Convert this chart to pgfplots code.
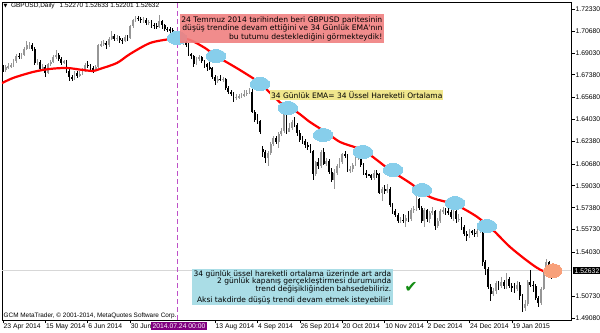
\documentclass[border=0pt]{standalone}
\usepackage{fontspec}
\setmainfont{Liberation Sans}
\newfontfamily\dejavu{DejaVu Sans}
\usepackage{pgfplots}
\usepackage{pgfplotstable}
\pgfplotsset{compat=1.18}
\definecolor{bullc}{RGB}{150,150,150}
\definecolor{bearc}{RGB}{0,0,0}
\definecolor{skyb}{RGB}{135,206,235}
\definecolor{orng}{RGB}{248,160,122}
\definecolor{pinkb}{RGB}{240,128,128}
\definecolor{yellb}{RGB}{240,230,140}
\definecolor{blueb}{RGB}{170,221,230}
\definecolor{purp}{RGB}{128,0,128}
\definecolor{vline}{RGB}{190,80,200}
\definecolor{curline}{RGB}{215,215,215}
\definecolor{chk}{RGB}{20,140,20}
\pgfplotstableread{
i o h l c
0 1.6790 1.6812 1.6758 1.6775
1 1.6775 1.6810 1.6762 1.6795
2 1.6795 1.6825 1.6780 1.6805
3 1.6805 1.6830 1.6790 1.6810
4 1.6810 1.6855 1.6798 1.6840
5 1.6840 1.6895 1.6828 1.6880
6 1.6880 1.6900 1.6855 1.6875
7 1.6875 1.6905 1.6860 1.6890
8 1.6890 1.6950 1.6880 1.6935
9 1.6935 1.6996 1.6925 1.6960
10 1.6960 1.6985 1.6935 1.6965
11 1.6965 1.6975 1.6915 1.6930
12 1.6930 1.6945 1.6815 1.6830
13 1.6830 1.6860 1.6810 1.6835
14 1.6835 1.6850 1.6770 1.6785
15 1.6785 1.6818 1.6765 1.6800
16 1.6800 1.6815 1.6725 1.6755
17 1.6755 1.6830 1.6745 1.6820
18 1.6820 1.6850 1.6805 1.6835
19 1.6835 1.6890 1.6825 1.6875
20 1.6875 1.6922 1.6860 1.6890
21 1.6890 1.6905 1.6845 1.6860
22 1.6860 1.6875 1.6815 1.6830
23 1.6830 1.6852 1.6822 1.6840
24 1.6840 1.6850 1.6755 1.6770
25 1.6770 1.6785 1.6695 1.6720
26 1.6720 1.6740 1.6688 1.6710
27 1.6710 1.6765 1.6700 1.6750
28 1.6750 1.6770 1.6715 1.6730
29 1.6730 1.6770 1.6720 1.6745
30 1.6745 1.6790 1.6735 1.6770
31 1.6770 1.6830 1.6760 1.6815
32 1.6815 1.6840 1.6790 1.6805
33 1.6805 1.6820 1.6770 1.6790
34 1.6790 1.6805 1.6755 1.6780
35 1.6780 1.6810 1.6770 1.6795
36 1.6795 1.6972 1.6790 1.6960
37 1.6960 1.6992 1.6945 1.6970
38 1.6970 1.7000 1.6955 1.6980
39 1.6980 1.6995 1.6930 1.6965
40 1.6965 1.7025 1.6950 1.7010
41 1.7010 1.7065 1.7000 1.7030
42 1.7030 1.7045 1.6995 1.7010
43 1.7010 1.7035 1.6990 1.7015
44 1.7015 1.7030 1.6975 1.7000
45 1.7000 1.7015 1.6970 1.6995
46 1.6995 1.7040 1.6985 1.7020
47 1.7020 1.7035 1.6995 1.7015
48 1.7015 1.7115 1.7005 1.7105
49 1.7105 1.7160 1.7090 1.7150
50 1.7150 1.7180 1.7135 1.7165
51 1.7165 1.7180 1.7140 1.7160
52 1.7160 1.7170 1.7130 1.7150
53 1.7150 1.7170 1.7125 1.7152
54 1.7152 1.7165 1.7110 1.7130
55 1.7130 1.7150 1.7110 1.7135
56 1.7135 1.7150 1.7090 1.7115
57 1.7115 1.7125 1.7085 1.7105
58 1.7105 1.7125 1.7080 1.7100
59 1.7100 1.7190 1.7090 1.7140
60 1.7140 1.7150 1.7085 1.7110
61 1.7110 1.7120 1.7065 1.7085
62 1.7085 1.7100 1.7060 1.7080
63 1.7080 1.7100 1.7055 1.7075
64 1.7075 1.7090 1.7035 1.7060
65 1.7060 1.7070 1.7025 1.7050
66 1.7050 1.7060 1.6980 1.6990
67 1.6990 1.7010 1.6960 1.6980
68 1.6980 1.7005 1.6960 1.6985
69 1.6985 1.7000 1.6950 1.6965
70 1.6965 1.6975 1.6880 1.6895
71 1.6895 1.6905 1.6860 1.6880
72 1.6880 1.6890 1.6795 1.6820
73 1.6820 1.6875 1.6810 1.6860
74 1.6860 1.6890 1.6840 1.6875
75 1.6875 1.6880 1.6825 1.6840
76 1.6840 1.6850 1.6790 1.6820
77 1.6820 1.6830 1.6770 1.6795
78 1.6795 1.6835 1.6775 1.6790
79 1.6790 1.6800 1.6710 1.6725
80 1.6725 1.6735 1.6660 1.6690
81 1.6690 1.6730 1.6680 1.6710
82 1.6710 1.6735 1.6690 1.6700
83 1.6700 1.6725 1.6685 1.6710
84 1.6710 1.6715 1.6625 1.6635
85 1.6635 1.6650 1.6590 1.6605
86 1.6605 1.6620 1.6575 1.6595
87 1.6595 1.6610 1.6535 1.6565
88 1.6565 1.6590 1.6550 1.6570
89 1.6570 1.6590 1.6555 1.6575
90 1.6575 1.6600 1.6560 1.6580
91 1.6580 1.6620 1.6570 1.6595
92 1.6595 1.6625 1.6580 1.6600
93 1.6600 1.6640 1.6590 1.6610
94 1.6610 1.6630 1.6450 1.6460
95 1.6460 1.6475 1.6380 1.6395
96 1.6395 1.6440 1.6370 1.6390
97 1.6390 1.6400 1.6290 1.6310
98 1.6180 1.6200 1.6120 1.6160
99 1.6160 1.6175 1.6075 1.6110
100 1.6110 1.6165 1.6050 1.6150
101 1.6150 1.6235 1.6135 1.6220
102 1.6220 1.6275 1.6205 1.6260
103 1.6260 1.6275 1.6215 1.6235
104 1.6235 1.6305 1.6190 1.6290
105 1.6290 1.6340 1.6275 1.6315
106 1.6315 1.6470 1.6300 1.6450
107 1.6450 1.6525 1.6290 1.6310
108 1.6310 1.6375 1.6305 1.6340
109 1.6340 1.6400 1.6325 1.6385
110 1.6385 1.6420 1.6345 1.6360
111 1.6360 1.6375 1.6280 1.6300
112 1.6300 1.6320 1.6235 1.6250
113 1.6250 1.6275 1.6220 1.6240
114 1.6240 1.6255 1.6190 1.6210
115 1.6210 1.6230 1.6175 1.6200
116 1.6200 1.6215 1.6150 1.6165
117 1.6165 1.6175 1.5950 1.5990
118 1.5990 1.6090 1.5980 1.6080
119 1.6080 1.6115 1.6030 1.6050
120 1.6050 1.6175 1.6040 1.6160
121 1.6160 1.6185 1.6060 1.6070
122 1.6070 1.6110 1.6055 1.6090
123 1.6090 1.6105 1.5995 1.6010
124 1.6010 1.6040 1.5930 1.5945
125 1.5945 1.6030 1.5875 1.6000
126 1.6000 1.6070 1.5985 1.6050
127 1.6050 1.6115 1.6040 1.6085
128 1.6085 1.6150 1.6070 1.6140
129 1.6140 1.6165 1.6110 1.6130
130 1.6130 1.6145 1.6005 1.6020
131 1.6020 1.6055 1.6000 1.6030
132 1.6030 1.6075 1.6010 1.6060
133 1.6060 1.6125 1.6050 1.6110
134 1.6110 1.6160 1.6095 1.6140
135 1.6140 1.6185 1.6045 1.6060
136 1.6060 1.6075 1.5985 1.6000
137 1.6000 1.6025 1.5960 1.5990
138 1.5990 1.5995 1.5975 1.5985
139 1.5985 1.5995 1.5945 1.5960
140 1.5960 1.6020 1.5950 1.6000
141 1.6000 1.6020 1.5965 1.5990
142 1.5990 1.6000 1.5840 1.5850
143 1.5850 1.5895 1.5790 1.5880
144 1.5880 1.5905 1.5840 1.5860
145 1.5860 1.5915 1.5845 1.5880
146 1.5880 1.5895 1.5745 1.5760
147 1.5760 1.5775 1.5690 1.5710
148 1.5710 1.5725 1.5665 1.5680
149 1.5680 1.5700 1.5620 1.5640
150 1.5640 1.5670 1.5620 1.5645
151 1.5645 1.5690 1.5625 1.5640
152 1.5640 1.5680 1.5590 1.5660
153 1.5660 1.5710 1.5630 1.5650
154 1.5650 1.5735 1.5640 1.5720
155 1.5720 1.5750 1.5700 1.5730
156 1.5730 1.5825 1.5715 1.5800
157 1.5800 1.5810 1.5720 1.5735
158 1.5735 1.5750 1.5625 1.5640
159 1.5640 1.5735 1.5590 1.5720
160 1.5720 1.5730 1.5630 1.5650
161 1.5650 1.5715 1.5625 1.5700
162 1.5700 1.5740 1.5680 1.5710
163 1.5710 1.5720 1.5570 1.5600
164 1.5600 1.5660 1.5585 1.5640
165 1.5640 1.5730 1.5620 1.5710
166 1.5710 1.5740 1.5690 1.5720
167 1.5720 1.5735 1.5685 1.5710
168 1.5710 1.5740 1.5680 1.5705
169 1.5705 1.5720 1.5650 1.5665
170 1.5665 1.5785 1.5640 1.5710
171 1.5710 1.5730 1.5625 1.5650
172 1.5650 1.5690 1.5630 1.5655
173 1.5655 1.5670 1.5570 1.5590
174 1.5590 1.5605 1.5525 1.5540
175 1.5540 1.5565 1.5485 1.5525
176 1.5525 1.5575 1.5510 1.5560
177 1.5560 1.5570 1.5535 1.5550
178 1.5550 1.5575 1.5520 1.5540
179 1.5540 1.5585 1.5520 1.5560
180 1.5560 1.5610 1.5545 1.5580
181 1.5580 1.5590 1.5300 1.5330
182 1.5330 1.5345 1.5235 1.5280
183 1.5280 1.5295 1.5125 1.5140
184 1.5140 1.5165 1.5035 1.5090
185 1.5090 1.5135 1.5075 1.5110
186 1.5110 1.5185 1.5090 1.5170
187 1.5170 1.5185 1.5120 1.5150
188 1.5150 1.5215 1.5135 1.5180
189 1.5180 1.5195 1.5130 1.5150
190 1.5150 1.5250 1.5125 1.5200
191 1.5200 1.5220 1.5135 1.5150
192 1.5150 1.5175 1.5105 1.5140
193 1.5140 1.5170 1.5100 1.5130
194 1.5130 1.5185 1.5110 1.5160
195 1.5160 1.5180 1.5040 1.5070
196 1.5070 1.5090 1.4952 1.4985
197 1.4985 1.5045 1.4960 1.5010
198 1.5010 1.5195 1.5000 1.5180
199 1.5180 1.5270 1.5145 1.5160
200 1.5160 1.5190 1.5100 1.5150
201 1.5150 1.5165 1.5040 1.5060
202 1.5060 1.5075 1.4990 1.5020
203 1.5020 1.5145 1.5005 1.5130
204 1.5130 1.5255 1.5115 1.5240
205 1.5240 1.5350 1.5225 1.5330
206 1.5330 1.5340 1.5220 1.5240
207 1.5240 1.5275 1.5200 1.5227
208 1.5227 1.5263 1.5220 1.5263
}\candles
\begin{document}
\begin{tikzpicture}
\useasboundingbox (0,0) rectangle (600bp,333bp);
\begin{axis}[
  at={(2bp,13bp)}, anchor=south west,
  scale only axis, width=569bp, height=318bp,
  xmin=-0.377, xmax=214.34, ymin=1.48930, ymax=1.72857,
  axis line style={black, line width=0.8bp},
  tick style={black, line width=0.6bp},
  tick align=outside, major tick length=3.5bp,
  xtick pos=left, ytick pos=right, yticklabel pos=right,
  xtick={0,16,32,48,80,96,112,128,144,160,176,192},
  xticklabels={23 Apr 2014,15 May 2014,6 Jun 2014,30 Jun 2014,13 Aug 2014,4 Sep 2014,26 Sep 2014,20 Oct 2014,10 Nov 2014,2 Dec 2014,24 Dec 2014,19 Jan 2015},
  xticklabel style={anchor=north west, font=\fontsize{6.8bp}{8bp}\selectfont, inner sep=0pt, xshift=0.5bp, yshift=0bp},
  ytick={1.72330,1.70680,1.69030,1.67380,1.65680,1.64030,1.62380,1.60680,1.59030,1.57380,1.55730,1.54030,1.50730,1.49080},
  yticklabels={1.72330,1.70680,1.69030,1.67380,1.65680,1.64030,1.62380,1.60680,1.59030,1.57380,1.55730,1.54030,1.50730,1.49080},
  yticklabel style={anchor=west, font=\fontsize{6.8bp}{8bp}\selectfont, inner sep=0pt, xshift=1bp},
]
% highlight ellipses
\addplot[skyb, only marks, mark=*, mark size=6.5bp, mark options={xscale=1.5, fill=skyb, draw=skyb, line width=0pt}] coordinates {
(65.7,1.7015) (80.4,1.6879) (97.0,1.6669) (107.5,1.6488) (120.8,1.6285) (135.8,1.6157) (147.2,1.6022) (158.1,1.5871) (170.6,1.5773) (182.6,1.5600)};
\addplot[orng, only marks, mark=*, mark size=7bp, mark options={xscale=1.3, fill=orng, draw=orng, line width=0pt}] coordinates {(207.5,1.5263)};
% current price line
\addplot[curline, line width=0.8bp] coordinates {(-0.4,1.52632) (214.4,1.52632)};
% wicks
\addplot[draw=none, mark=none, forget plot, error bars/.cd, y dir=both, y explicit, error mark=none,
  error bar style={draw=bullc, line width=0.7bp}]
  table[x=i, y expr={\thisrow{c}>\thisrow{o} ? (\thisrow{h}+\thisrow{l})/2 : 5}, y error expr={(\thisrow{h}-\thisrow{l})/2}] {\candles};
\addplot[draw=none, mark=none, forget plot, error bars/.cd, y dir=both, y explicit, error mark=none,
  error bar style={draw=bearc, line width=0.7bp}]
  table[x=i, y expr={\thisrow{c}>\thisrow{o} ? 5 : (\thisrow{h}+\thisrow{l})/2}, y error expr={(\thisrow{h}-\thisrow{l})/2}] {\candles};
% bodies
\addplot[draw=none, mark=none, forget plot, error bars/.cd, y dir=both, y explicit, error mark=none,
  error bar style={draw=bullc, line width=1.8bp}]
  table[x=i, y expr={\thisrow{c}>\thisrow{o} ? (\thisrow{o}+\thisrow{c})/2 : 5}, y error expr={abs(\thisrow{c}-\thisrow{o})/2}] {\candles};
\addplot[draw=none, mark=none, forget plot, error bars/.cd, y dir=both, y explicit, error mark=none,
  error bar style={draw=bearc, line width=1.8bp}]
  table[x=i, y expr={\thisrow{c}>\thisrow{o} ? 5 : (\thisrow{o}+\thisrow{c})/2}, y error expr={abs(\thisrow{c}-\thisrow{o})/2}] {\candles};
% EMA 34
\addplot[red, line width=2.2bp, smooth, tension=0.5] coordinates {
(-0.4,1.6675) (3.8,1.6714) (11.3,1.6759) (17.7,1.6782) (24.2,1.6789) (30.2,1.6774) (34,1.6767) (36.6,1.6782) (43,1.6827) (47.9,1.6894) (55.5,1.6977) (63,1.7007) (66,1.7015) (70.6,1.7000) (76.2,1.6940) (80.4,1.6880) (89.4,1.6774) (97,1.6676) (100.8,1.6601) (105.7,1.6511) (110.9,1.6458) (115.8,1.6383) (122.3,1.6300) (127.2,1.6232) (133.6,1.6187) (138.5,1.6135) (146,1.6022) (153.6,1.5924) (161.1,1.5819) (168.7,1.5774) (172.5,1.5744) (178.9,1.5669) (184.9,1.5570) (191.3,1.5443) (198.9,1.5322) (203.8,1.5262) (208.7,1.5254)};
% vertical line
\addplot[vline, line width=0.9bp, dash pattern=on 5bp off 3bp] coordinates {(66,1.4893) (66,1.7286)};
\end{axis}
% annotations
\node[anchor=west, inner sep=0pt, font=\fontsize{6.5bp}{8bp}\selectfont] at (3.5bp,327bp) {{\dejavu\fontsize{5bp}{6bp}\selectfont ▼}\hspace{3.5bp}GBPUSD,Daily\hspace{5bp}1.52270 1.52633 1.52201 1.52632};
\node[anchor=west, inner sep=0pt, font=\fontsize{6.4bp}{8bp}\selectfont] at (3.5bp,17bp) {GCM MetaTrader, © 2001-2014, MetaQuotes Software Corp.};
\node[anchor=north east, fill=pinkb, fill opacity=0.9, text opacity=1, inner xsep=1.5bp, inner ysep=2.5bp, align=right, font=\dejavu\fontsize{7.6bp}{8.3bp}\selectfont] at (384bp,319bp) {24 Temmuz 2014 tarihinden beri GBPUSD paritesinin\\düşüş trendine devam ettiğini ve 34 Günlük EMA'nın\\bu tutumu desteklediğini görmekteydik!};
\node[anchor=west, fill=yellb, inner xsep=1bp, inner ysep=1.5bp, font=\dejavu\fontsize{7.5bp}{8bp}\selectfont] at (270bp,238bp) {34 Günlük EMA= 34 Üssel Hareketli Ortalama};
\node[anchor=north west, fill=blueb, inner xsep=1.5bp, inner ysep=1.5bp, align=right, font=\dejavu\fontsize{7.5bp}{7.5bp}\selectfont] at (192bp,64bp) {34 günlük üssel hareketli ortalama üzerinde art arda\\2 günlük kapanış gerçekleştirmesi durumunda\\trend değişikliğinden bahsedebiliriz.\\[3.5bp]Aksi takdirde düşüş trendi devam etmek isteyebilir!};
\node[text=chk, inner sep=0pt, font=\dejavu\fontsize{16bp}{16bp}\selectfont] at (411bp,46bp) {✔};
\node[fill=purp, text=white, inner xsep=2bp, inner ysep=1.2bp, font=\fontsize{6.8bp}{8bp}\selectfont] at (179bp,7bp) {2014.07.24 00:00};
\node[anchor=west, fill=black, text=white, inner xsep=1.5bp, inner ysep=1.2bp, font=\fontsize{6.8bp}{8bp}\selectfont] at (573bp,62.2bp) {1.52632};
\end{tikzpicture}
\end{document}
